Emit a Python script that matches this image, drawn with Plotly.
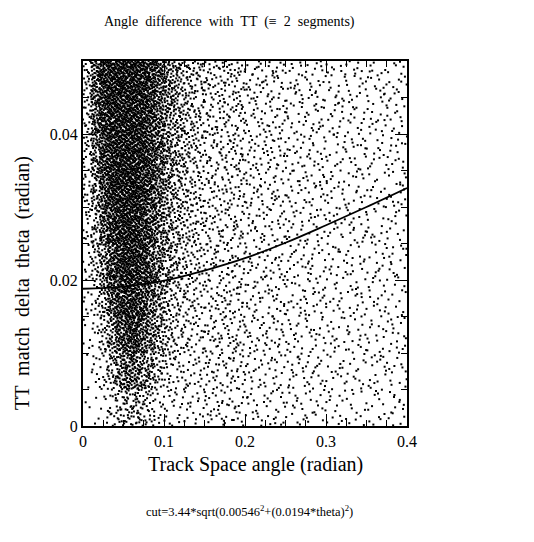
import numpy as np
import plotly.graph_objects as go

# ---------------- data ----------------
# Dot density: number of dots per cell (rows = y bins from bottom to top)
y_edges = [0.000, 0.005, 0.010, 0.015, 0.020, 0.025, 0.030, 0.035, 0.040, 0.045, 0.050]

# left part: x bins of 0.01 from 0 to 0.15
x_edges_left = [0.00, 0.01, 0.02, 0.03, 0.04, 0.05, 0.06, 0.07, 0.08, 0.09, 0.10,
                0.11, 0.12, 0.13, 0.14, 0.15]
counts_left = [
    [1, 3, 5, 11, 20, 26, 27, 22, 15, 10, 8, 7, 7, 7, 7],
    [3, 6, 11, 25, 45, 58, 58, 47, 32, 21, 15, 12, 10, 9, 9],
    [5, 9, 20, 42, 68, 82, 80, 66, 47, 32, 22, 17, 13, 11, 10],
    [7, 15, 32, 60, 85, 95, 92, 78, 57, 40, 28, 20, 16, 13, 11],
    [10, 22, 45, 75, 95, 102, 98, 86, 65, 47, 33, 24, 18, 15, 12],
    [12, 30, 58, 85, 100, 105, 100, 90, 72, 52, 37, 27, 21, 17, 14],
    [14, 38, 70, 92, 102, 105, 102, 93, 76, 57, 40, 30, 23, 18, 15],
    [16, 48, 80, 98, 105, 105, 103, 96, 80, 60, 43, 32, 24, 19, 16],
    [18, 58, 90, 102, 105, 105, 104, 98, 83, 63, 45, 34, 26, 20, 17],
    [20, 65, 95, 105, 105, 105, 104, 100, 85, 65, 47, 35, 27, 21, 18],
]

# right part: x bins of 0.05 from 0.15 to 0.4
x_edges_right = [0.15, 0.20, 0.25, 0.30, 0.35, 0.40]
counts_right = [
    [46, 36, 31, 28, 27],
    [52, 40, 35, 31, 29],
    [55, 42, 36, 32, 30],
    [55, 43, 37, 32, 30],
    [56, 43, 37, 32, 30],
    [58, 44, 37, 33, 31],
    [60, 45, 38, 33, 31],
    [63, 46, 39, 34, 31],
    [66, 48, 40, 34, 32],
    [70, 50, 40, 34, 32],
]

# cut curve
curve_theta = [0.00, 0.05, 0.10, 0.15, 0.20, 0.25, 0.30, 0.35, 0.40]
curve_cut = [0.0188, 0.0191, 0.0199, 0.0213, 0.0230, 0.0251, 0.0275, 0.0300, 0.0326]

x_tickvals = [0, 0.1, 0.2, 0.3, 0.4]
x_ticktext = ["0", "0.1", "0.2", "0.3", "0.4"]
y_tickvals = [0, 0.02, 0.04]
y_ticktext = ["0", "0.02", "0.04"]

# ---------------- build dots from the read densities ----------------
cells = []  # (x0, x1, y0, y1, density per unit area)
for r in range(len(y_edges) - 1):
    y0, y1 = y_edges[r], y_edges[r + 1]
    for c in range(len(x_edges_left) - 1):
        x0, x1 = x_edges_left[c], x_edges_left[c + 1]
        cells.append((x0, x1, y0, y1, counts_left[r][c] / ((x1 - x0) * (y1 - y0))))
    for c in range(len(x_edges_right) - 1):
        x0, x1 = x_edges_right[c], x_edges_right[c + 1]
        cells.append((x0, x1, y0, y1, counts_right[r][c] / ((x1 - x0) * (y1 - y0))))

dmax = max(cl[4] for cl in cells)
n_cand = int(dmax * 0.4 * 0.05) + 1


def radical_inverse(n, base):
    idx = np.arange(1, n + 1)
    out = np.zeros(n)
    f = 1.0 / base
    i = idx.copy()
    while np.any(i > 0):
        out += f * (i % base)
        i //= base
        f /= base
    return out


hx = radical_inverse(n_cand, 2) * 0.4
hy = radical_inverse(n_cand, 3) * 0.05
hz = radical_inverse(n_cand, 5)

dens = np.zeros(n_cand)
for (x0, x1, y0, y1, d) in cells:
    m = (hx >= x0) & (hx < x1) & (hy >= y0) & (hy < y1)
    dens[m] = d
keep = hz < dens / dmax
px = hx[keep]
py = hy[keep]

# ---------------- figure ----------------
fig = go.Figure()
fig.add_trace(go.Scatter(
    x=px, y=py, mode="markers",
    marker=dict(symbol="square", size=2, color="black", line=dict(width=0)),
    hoverinfo="skip", showlegend=False,
))
fig.add_trace(go.Scatter(
    x=curve_theta, y=curve_cut, mode="lines",
    line=dict(color="black", width=1.8, shape="spline"),
    showlegend=False,
))

font_family = "Liberation Serif, Times New Roman, serif"
axis_common = dict(
    ticks="inside", ticklen=12, tickwidth=1, tickcolor="black",
    showline=True, linewidth=2, linecolor="black", mirror="allticks",
    showgrid=False, zeroline=False,
    tickfont=dict(family=font_family, size=16, color="black"),
)
fig.update_xaxes(range=[0, 0.4], tickvals=x_tickvals, ticktext=x_ticktext,
                 minor=dict(ticks="inside", ticklen=6, dtick=0.025, tickcolor="black", showgrid=False),
                 **axis_common)
fig.update_yaxes(range=[0, 0.05], tickvals=y_tickvals, ticktext=y_ticktext,
                 minor=dict(ticks="inside", ticklen=6, dtick=0.005, tickcolor="black", showgrid=False),
                 **axis_common)

W, H = 534, 542
L, R, T, B = 83, 127, 61, 116
pw, ph = W - L - R, H - T - B


def px2paper(x, y):
    return (x - L) / pw, (H - B - y) / ph


ann_specs = [
    ("Angle  difference  with  TT  (\u2261  2  segments)", 229, 22, 14, 0),
    ("Track Space angle (radian)", 255, 464, 20, 0),
    ("TT  match  delta  theta  (radian)", 22, 283, 20, -90),
    ("cut=3.44*sqrt(0.00546<sup>2</sup>+(0.0194*theta)<sup>2</sup>)", 249, 511, 12.5, 0),
]
annotations = []
for text, x, y, size, ang in ann_specs:
    ax, ay = px2paper(x, y)
    annotations.append(dict(text=text, x=ax, y=ay, xref="paper", yref="paper",
                            xanchor="center", yanchor="middle", textangle=ang,
                            showarrow=False, font=dict(size=size, family=font_family, color="black")))

fig.update_layout(
    width=W, height=H,
    margin=dict(l=L, r=R, t=T, b=B),
    paper_bgcolor="white", plot_bgcolor="white",
    font=dict(family=font_family, color="black"),
    annotations=annotations,
)

fig.write_html("out.html")
